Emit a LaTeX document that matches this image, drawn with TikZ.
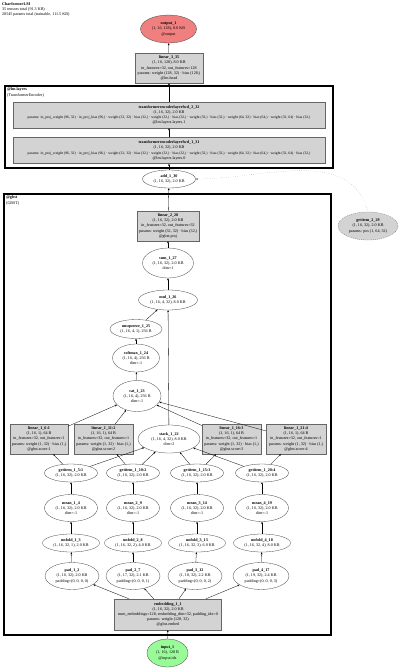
\documentclass[tikz,border=0pt]{standalone}
\usepackage{fontspec}
\setmainfont{Liberation Serif}
\usetikzlibrary{arrows.meta,positioning,shapes.geometric}
\definecolor{modgray}{HTML}{D3D3D3}
\definecolor{outred}{HTML}{F08080}
\definecolor{ingreen}{HTML}{98FB98}

\begin{document}
\begin{tikzpicture}[x=1pt, y=-1pt,
  every node/.style={font=\fontsize{4.1}{5.1}\selectfont},
  op/.style={ellipse, draw=black!75, line width=0.3pt, fill=white, inner sep=0pt, align=center},
  mod/.style={rectangle, draw=black!60, line width=0.3pt, fill=modgray, inner sep=1pt, align=center},
  cluster/.style={line width=1.1pt},
  >={Stealth[length=2.2pt,width=1.8pt]},
  every path/.style={line width=0.3pt}]
\useasboundingbox (0,0) rectangle (400,670);

% header
\node[anchor=north west, align=left, inner sep=0pt] (head) at (2,2)
  {\textbf{CharformerLM}\\35 tensors total (91.3 KB)\\28545 params total (trainable, 111.5 KB)};

% clusters
\draw[cluster] (5,86) rectangle (333,168);
\node[anchor=north west, align=left, inner sep=0pt] (lmlabel) at (7,88) {\textbf{@lm.layers}\\(TransformerEncoder)};
\draw[cluster] (4,194) rectangle (331,635);
\node[anchor=north west, align=left, inner sep=0pt] (gbstlabel) at (6,196) {\textbf{@gbst}\\(GBST)};

% head of the model
\node[op, fill=outred, minimum width=56pt, minimum height=28pt] (output) at (168.5,29)
  {\textbf{output\_1}\\(1, 16, 128), 8.0 KB\\@output};
\node[mod, minimum width=68pt, minimum height=30pt] (lmhead) at (169,68)
  {\textbf{linear\_3\_35}\\(1, 16, 128), 8.0 KB\\in\_features=32, out\_features=128\\params: weight (128, 32) · bias (128,)\\@lm.head};
\node[mod, minimum width=312pt, minimum height=26pt] (layer2) at (169,115)
  {\textbf{transformerencoderlayerfwd\_2\_32}\\(1, 16, 32), 2.0 KB\\{\fontsize{3.7}{5.1}\selectfont params: in\_proj\_weight (96, 32) · in\_proj\_bias (96,) · weight (32, 32) · bias (32,) · weight (32,) · bias (32,) · weight (32,) · bias (32,) · weight (64, 32) · bias (64,) · weight (32, 64) · bias (32,)}\\@lm.layers.layers.1};
\node[mod, minimum width=312pt, minimum height=26pt] (layer1) at (169,150.5)
  {\textbf{transformerencoderlayerfwd\_1\_31}\\(1, 16, 32), 2.0 KB\\{\fontsize{3.7}{5.1}\selectfont params: in\_proj\_weight (96, 32) · in\_proj\_bias (96,) · weight (32, 32) · bias (32,) · weight (32,) · bias (32,) · weight (32,) · bias (32,) · weight (64, 32) · bias (64,) · weight (32, 64) · bias (32,)}\\@lm.layers.layers.0};
\node[op, minimum width=53pt, minimum height=18pt] (add) at (169,179)
  {\textbf{add\_1\_30}\\(1, 16, 32), 2.0 KB};
\node[op, fill=modgray, draw=black!60, dash pattern=on 1pt off 1pt, minimum width=60pt, minimum height=28pt] (pos) at (368,226)
  {\textbf{getitem\_2\_29}\\(1, 16, 32), 2.0 KB\\params: pos (1, 64, 32)};

% gbst
\node[mod, minimum width=62pt, minimum height=30pt] (proj) at (168,226)
  {\textbf{linear\_2\_28}\\(1, 16, 32), 2.0 KB\\in\_features=32, out\_features=32\\params: weight (32, 32) · bias (32,)\\@gbst.proj};
\node[op, minimum width=51pt, minimum height=30pt] (sum) at (168,263)
  {\textbf{sum\_1\_27}\\(1, 16, 32), 2.0 KB\\dim=1};
\node[op, minimum width=59pt, minimum height=20pt] (mul) at (168,300)
  {\textbf{mul\_1\_26}\\(1, 16, 4, 32), 8.0 KB};
\node[op, minimum width=52pt, minimum height=19pt] (unsq) at (136,329)
  {\textbf{unsqueeze\_1\_25}\\(1, 16, 4, 1), 256 B};
\node[op, minimum width=47pt, minimum height=28pt] (softmax) at (136,358)
  {\textbf{softmax\_1\_24}\\(1, 16, 4), 256 B\\dim=-1};
\node[op, minimum width=48pt, minimum height=31pt] (cat) at (137,396)
  {\textbf{cat\_1\_23}\\(1, 16, 4), 256 B\\dim=-1};
\node[op, minimum width=62pt, minimum height=28pt] (stack) at (169,439)
  {\textbf{stack\_1\_22}\\(1, 16, 4, 32), 8.0 KB\\dim=2};
\node[mod, minimum width=58pt, minimum height=30pt] (score1) at (39,439)
  {\textbf{linear\_1\_6:1}\\(1, 16, 1), 64 B\\in\_features=32, out\_features=1\\params: weight (1, 32) · bias (1,)\\@gbst.score:1};
\node[mod, minimum width=59pt, minimum height=30pt] (score2) at (103.5,439)
  {\textbf{linear\_1\_11:2}\\(1, 16, 1), 64 B\\in\_features=32, out\_features=1\\params: weight (1, 32) · bias (1,)\\@gbst.score:2};
\node[mod, minimum width=59pt, minimum height=30pt] (score3) at (231.5,439)
  {\textbf{linear\_1\_16:3}\\(1, 16, 1), 64 B\\in\_features=32, out\_features=1\\params: weight (1, 32) · bias (1,)\\@gbst.score:3};
\node[mod, minimum width=60pt, minimum height=30pt] (score4) at (296,439)
  {\textbf{linear\_1\_21:4}\\(1, 16, 1), 64 B\\in\_features=32, out\_features=1\\params: weight (1, 32) · bias (1,)\\@gbst.score:4};

\node[op, minimum width=53pt, minimum height=18pt] (getitem1) at (71,473) {\textbf{getitem\_1\_5:1}\\(1, 16, 32), 2.0 KB};
\node[op, minimum width=53pt, minimum height=18pt] (getitem2) at (133,473) {\textbf{getitem\_1\_10:2}\\(1, 16, 32), 2.0 KB};
\node[op, minimum width=53pt, minimum height=18pt] (getitem3) at (197,473) {\textbf{getitem\_1\_15:3}\\(1, 16, 32), 2.0 KB};
\node[op, minimum width=53pt, minimum height=18pt] (getitem4) at (262,473) {\textbf{getitem\_1\_20:4}\\(1, 16, 32), 2.0 KB};

\node[op, minimum width=53pt, minimum height=27pt] (mean1) at (71,508) {\textbf{mean\_1\_4}\\(1, 16, 32), 2.0 KB\\dim=-1};
\node[op, minimum width=53pt, minimum height=27pt] (mean2) at (133,508) {\textbf{mean\_2\_9}\\(1, 16, 32), 2.0 KB\\dim=-1};
\node[op, minimum width=53pt, minimum height=27pt] (mean3) at (197,508) {\textbf{mean\_3\_14}\\(1, 16, 32), 2.0 KB\\dim=-1};
\node[op, minimum width=53pt, minimum height=27pt] (mean4) at (262,508) {\textbf{mean\_4\_19}\\(1, 16, 32), 2.0 KB\\dim=-1};

\node[op, minimum width=57pt, minimum height=18pt] (unfold1) at (71,543) {\textbf{unfold\_1\_3}\\(1, 16, 32, 1), 2.0 KB};
\node[op, minimum width=57pt, minimum height=18pt] (unfold2) at (133,543) {\textbf{unfold\_2\_8}\\(1, 16, 32, 2), 4.0 KB};
\node[op, minimum width=57pt, minimum height=18pt] (unfold3) at (197,543) {\textbf{unfold\_3\_13}\\(1, 16, 32, 3), 6.0 KB};
\node[op, minimum width=57pt, minimum height=18pt] (unfold4) at (262,543) {\textbf{unfold\_4\_18}\\(1, 16, 32, 4), 8.0 KB};

\node[op, minimum width=54pt, minimum height=27pt] (pad1) at (72,576) {\textbf{pad\_1\_2}\\(1, 16, 32), 2.0 KB\\padding=(0, 0, 0, 0)};
\node[op, minimum width=54pt, minimum height=27pt] (pad2) at (133,576) {\textbf{pad\_2\_7}\\(1, 17, 32), 2.1 KB\\padding=(0, 0, 0, 1)};
\node[op, minimum width=54pt, minimum height=27pt] (pad3) at (195,576) {\textbf{pad\_3\_12}\\(1, 18, 32), 2.2 KB\\padding=(0, 0, 0, 2)};
\node[op, minimum width=56pt, minimum height=27pt] (pad4) at (261,576) {\textbf{pad\_4\_17}\\(1, 19, 32), 2.4 KB\\padding=(0, 0, 0, 3)};

\node[mod, minimum width=107pt, minimum height=31pt] (embed) at (168,614.5)
  {\textbf{embedding\_1\_1}\\(1, 16, 32), 2.0 KB\\num\_embeddings=128, embedding\_dim=32, padding\_idx=0\\params: weight (128, 32)\\@gbst.embed};
\node[op, fill=ingreen, minimum width=41pt, minimum height=28pt] (input) at (167.5,653)
  {\textbf{input\_1}\\(1, 16), 128 B\\@input.ids};

% edges
\draw[->] (input) -- (embed);
\draw[->] (embed) -- (pad1);
\draw[->] (embed) -- (pad2);
\draw[->] (embed) -- (pad3);
\draw[->] (embed) -- (pad4);
\draw[->] (pad1) -- (unfold1);
\draw[->] (pad2) -- (unfold2);
\draw[->] (pad3) -- (unfold3);
\draw[->] (pad4) -- (unfold4);
\draw[->] (unfold1) -- (mean1);
\draw[->] (unfold2) -- (mean2);
\draw[->] (unfold3) -- (mean3);
\draw[->] (unfold4) -- (mean4);
\draw[->] (mean1) -- (getitem1);
\draw[->] (mean2) -- (getitem2);
\draw[->] (mean3) -- (getitem3);
\draw[->] (mean4) -- (getitem4);
\draw[->] (getitem1) -- (score1);
\draw[->] (getitem2) -- (score2);
\draw[->] (getitem3) -- (score3);
\draw[->] (getitem4) -- (score4);
\draw[->] (getitem1) -- (stack);
\draw[->] (getitem2) -- (stack);
\draw[->] (getitem3) -- (stack);
\draw[->] (getitem4) -- (stack);
\draw[->] (score1) -- (cat);
\draw[->] (score2) -- (cat);
\draw[->] (score3) -- (cat);
\draw[->] (score4) -- (cat);
\draw[->] (cat) -- (softmax);
\draw[->] (softmax) -- (unsq);
\draw[->] (unsq) -- (mul);
\draw[->] (stack) -- (mul);
\draw[->] (mul) -- (sum);
\draw[->] (sum) -- (proj);
\draw[->] (proj) -- (add);
\draw[->, dotted, black!60] (pos.north) to[out=105, in=0] (add.east);
\draw[->] (add) -- (layer1);
\draw[->] (layer1) -- (layer2);
\draw[->] (layer2) -- (lmhead);
\draw[->] (lmhead) -- (output);
\end{tikzpicture}
\end{document}
